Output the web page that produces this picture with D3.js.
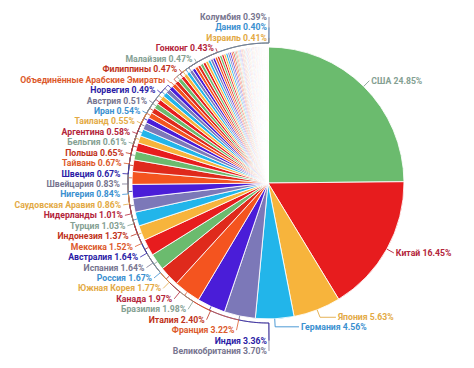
<!DOCTYPE html>
<html><head><meta charset="utf-8">
<script src="https://cdn.jsdelivr.net/npm/d3@7"></script>
<style>html,body{margin:0;padding:0;background:#fff;}svg{display:block;}</style>
</head><body>
<svg id="chart" width="474" height="368"></svg>
<script>
// Labelled countries (clockwise from 12 o'clock)
const countries = ["США","Китай","Япония","Германия","Великобритания","Индия","Франция","Италия","Бразилия","Канада","Южная Корея","Россия","Испания","Австралия","Мексика","Индонезия","Турция","Нидерланды","Саудовская Аравия","Нигерия","Швейцария","Швеция","Тайвань","Польша","Бельгия","Аргентина","Таиланд","Иран","Австрия","Норвегия","Объединённые Арабские Эмираты","Филиппины","Малайзия","Гонконг","Израиль","Дания","Колумбия"];
const shares = [24.85,16.45,5.63,4.56,3.70,3.36,3.22,2.40,1.98,1.97,1.77,1.67,1.64,1.64,1.52,1.37,1.03,1.01,0.86,0.84,0.83,0.67,0.67,0.65,0.61,0.58,0.55,0.54,0.51,0.49,0.48,0.47,0.47,0.43,0.41,0.40,0.39];
// Unlabelled remaining countries (estimated)
const otherShares = [0.37,0.37,0.36,0.35,0.34,0.32,0.31,0.30,0.29,0.28,0.28,0.27,0.26,0.25,0.24,0.22,0.20,0.20,0.18,0.16,0.14,0.14,0.12,0.12,0.12,0.11,0.11,0.10,0.10,0.09,0.09,0.08,0.08,0.08,0.08,0.07,0.07,0.07,0.07,0.07,0.07,0.06,0.06,0.06,0.06,0.06,
 0.05,0.05,0.05,0.05,0.05,0.05,0.04,0.04,0.04,0.04,0.04,0.04,0.04,0.04,
 0.03,0.03,0.03,0.03,0.03,0.03,0.03,0.03,0.03,0.03,
 0.02,0.02,0.02,0.02,0.02,0.02,0.02,0.02,0.02,0.02,0.02,0.02,0.02,0.02,0.02,
 0.01,0.01,0.01,0.01,0.01,0.01,0.01,0.01,0.01,0.01,0.01,0.01,0.01,0.01,0.01,0.01,0.01,0.01,0.01,0.01,0.01,0.01,0.01,0.01,0.01,0.01,0.01,0.01,0.01,0.01,0.01,0.01,0.01];
const sliceColors = ["#6bbb6e","#e71c1e","#f7b43c","#22b5ea","#7c78b8","#4a1dd8","#f4541f","#df2a1c"];
const labelColors = ["#84a092","#b3243a","#e3aa45","#3a90d0","#77758f","#2b1ca6","#dc5a2c","#bf3320"];

const svg = d3.select("#chart");
const W = 474, H = 368, cx = 268, cy = 183, r = 136;
const g = svg.append("g").attr("transform", `translate(${cx},${cy})`);

const data = shares.map((v,i)=>({name:countries[i], v, i, labelled:true}))
  .concat(otherShares.map((v,j)=>({name:"", v, i:shares.length+j, labelled:false})));

const pie = d3.pie().sort(null).value(d=>d.v).startAngle(0).endAngle(2*Math.PI);
const arcs = pie(data);
const arc = d3.arc().innerRadius(0).outerRadius(r);

g.selectAll("path.slice").data(arcs).enter().append("path")
  .attr("class","slice")
  .attr("d", arc)
  .attr("fill", d=>sliceColors[d.data.i % 8])
  .attr("stroke", "#fff")
  .attr("stroke-width", 0.85)
  .attr("stroke-linejoin","round");

const font = "Roboto, 'Noto Sans', sans-serif";
const fs = "8.7px";
const labelled = arcs.filter(d=>d.data.labelled);
const mid = d => (d.startAngle + d.endAngle)/2;
const pt = (a, rad) => [Math.sin(a)*rad, -Math.cos(a)*rad];
const txt = d => d.data.name.length > 20 ? d.data.name : `${d.data.name} ${d.data.v.toFixed(2)}%`;

// Right side labels (first four slices)
const right = labelled.filter(d=>d.data.i < 4);
right.forEach(d=>{
  const a = mid(d);
  const p0 = pt(a, r), p1 = pt(a, r+8);
  const L2 = 24*Math.max(0, (-Math.cos(a) - 0.8)/0.2);
  const p2 = [p1[0] + L2, p1[1]];
  const col = labelColors[d.data.i % 8];
  g.append("path").attr("d", d3.line()([p0,p1,p2])).attr("fill","none")
    .attr("stroke", col).attr("stroke-width", 0.9);
  g.append("text").attr("x", p2[0]+2).attr("y", p2[1]).attr("dy","0.35em")
    .attr("text-anchor","start").attr("fill", col)
    .style("font-family", font).style("font-size",fs).style("font-weight","bold")
    .text(txt(d));
});

// Left side labels stacked
const left = labelled.filter(d=>d.data.i >= 4);
const n = left.length, s = 10.44, Rl = 148, lcy = 3;
const rr = r + 4;
left.forEach((d,k)=>{
  const a = mid(d);
  const y = 1 + s*((n-1)/2 - k);
  const dyc = y - lcy;
  let x = Math.abs(dyc) < Rl ? -Math.sqrt(Rl*Rl - dyc*dyc) : -1;
  x = Math.min(x, -1);
  const col = labelColors[d.data.i % 8];
  const end = [x+2, y];
  let la = Math.atan2(end[0], -end[1]); if (la < 0) la += 2*Math.PI;
  if (la < Math.PI/2) la += 2*Math.PI;
  const p0 = pt(a, r), p1 = pt(a, rr);
  const steps = 24, pts = [p0, p1];
  for (let t=1; t<=steps; t++){ pts.push(pt(a + (la-a)*t/steps, rr)); }
  pts.push(end);
  g.append("path").attr("d", d3.line()(pts)).attr("fill","none")
    .attr("stroke", col).attr("stroke-width", 0.8);
  g.append("text").attr("x", x).attr("y", y).attr("dy","0.35em")
    .attr("text-anchor","end").attr("fill", col)
    .style("font-family", font).style("font-size",fs).style("font-weight","bold")
    .text(txt(d));
});
</script>
</body></html>
